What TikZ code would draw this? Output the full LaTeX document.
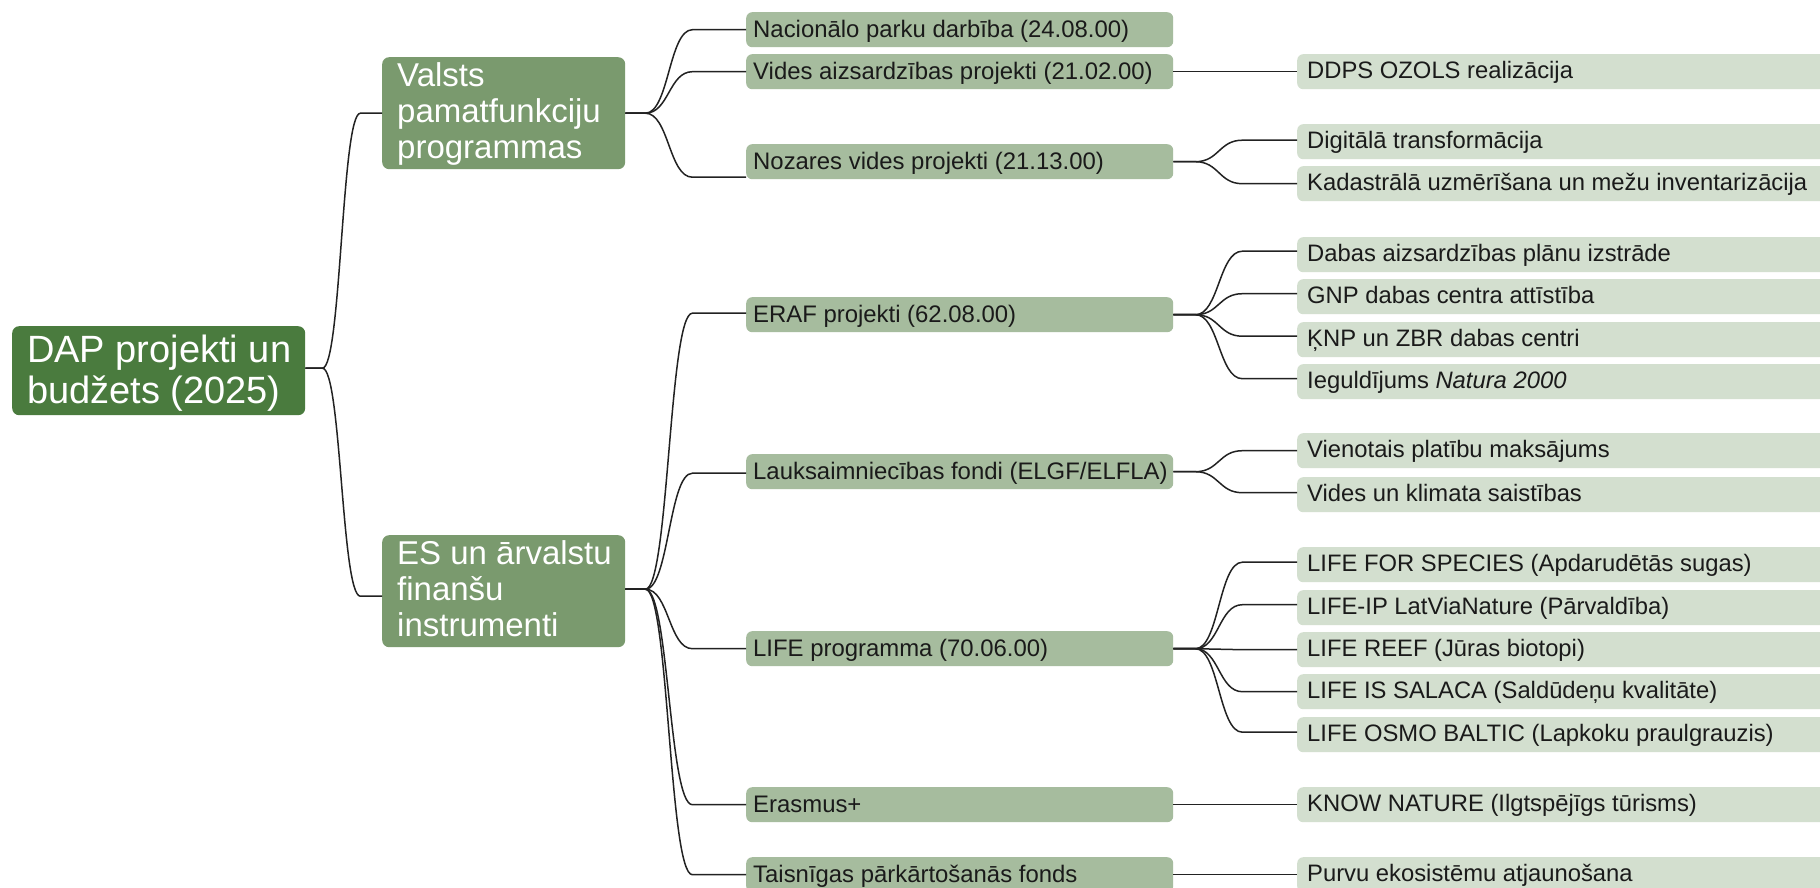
\documentclass[tikz,border=0pt]{standalone}
\usepackage{fontspec}
\setmainfont{Liberation Sans}
\usetikzlibrary{calc}
\definecolor{rootc}{HTML}{4A7B3E}
\definecolor{lvlone}{HTML}{7A9A6E}
\definecolor{lvltwo}{HTML}{A6BC9E}
\definecolor{leafc}{HTML}{D3DFCF}
\definecolor{linec}{HTML}{222222}
\definecolor{txt}{HTML}{1A1A1A}
% #1 parent anchor, #2 child anchor, #3 stub length, #4 curve width
\newcommand\mmlink[4]{%
  \path #1 ++(#3,0) coordinate (tmpA);
  \path #2 coordinate (tmpC);
  \path ($(tmpC -| tmpA)+(#4,0)$) coordinate (tmpB);
  \draw[conn] #1 -- (tmpA) .. controls ($(tmpA)+(0.5*#4,0)$) and ($(tmpB)+(-0.5*#4,0)$) .. (tmpB) -- (tmpC);
}
\newcommand\boxlines[2]{\makebox[#1][l]{\parbox[t]{500pt}{\raggedright #2}}}
\newcommand\oneline[2]{\makebox[#1][l]{#2}}
\begin{document}
\begin{tikzpicture}[x=1pt,y=-1pt,
  rootbox/.style={fill=rootc, text=white, rounded corners=7pt, anchor=north west, inner xsep=15pt, inner ysep=0pt, text height=36pt, text depth=53pt, font=\fontsize{38}{41}\selectfont},
  lvlonebox/.style={fill=lvlone, text=white, rounded corners=7pt, anchor=north west, inner xsep=15pt, inner ysep=0pt, text height=29pt, text depth=83pt, font=\fontsize{33}{36}\selectfont},
  lvltwobox/.style={fill=lvltwo, text=txt, rounded corners=6pt, anchor=north west, inner xsep=7pt, inner ysep=0pt, text height=25pt, text depth=10pt, font=\fontsize{23.9}{28}\selectfont},
  leafbox/.style={fill=leafc, text=txt, rounded corners=6pt, anchor=north west, inner xsep=10pt, inner ysep=0pt, text height=24pt, text depth=11pt, font=\fontsize{23.8}{28}\selectfont},
  conn/.style={draw=linec, line width=1.5pt}
]
\useasboundingbox (0,0) rectangle (1820,888);
\clip (0,0) rectangle (1820,888);
\fill[white] (0,0) rectangle (1820,888);

% root and level 1
\node[rootbox] (root) at (12,326) {\boxlines{263pt}{DAP projekti un\\budžets (2025)}};
\node[lvlonebox] (valsts) at (382,57) {\boxlines{213pt}{Valsts\\pamatfunkciju\\programmas}};
\node[lvlonebox] (es) at (382,535) {\boxlines{213pt}{ES un ārvalstu\\finanšu\\instrumenti}};

% level 2
\node[lvltwobox] (nac) at (746,12) {\oneline{413pt}{Nacionālo parku darbība (24.08.00)}};
\node[lvltwobox] (vides) at (746,54) {\oneline{413pt}{Vides aizsardzības projekti (21.02.00)}};
\node[lvltwobox] (nozares) at (746,144) {\oneline{413pt}{Nozares vides projekti (21.13.00)}};
\node[lvltwobox] (eraf) at (746,297) {\oneline{413pt}{ERAF projekti (62.08.00)}};
\node[lvltwobox] (lauks) at (746,454) {\oneline{413pt}{Lauksaimniecības fondi (ELGF/ELFLA)}};
\node[lvltwobox] (life) at (746,631) {\oneline{413pt}{LIFE programma (70.06.00)}};
\node[lvltwobox] (erasmus) at (746,787) {\oneline{413pt}{Erasmus+}};
\node[lvltwobox] (taisn) at (746,857) {\oneline{413pt}{Taisnīgas pārkārtošanās fonds}};

% leaves
\node[leafbox] (ddps) at (1297,54) {\oneline{513pt}{DDPS OZOLS realizācija}};
\node[leafbox] (digit) at (1297,124) {\oneline{513pt}{Digitālā transformācija}};
\node[leafbox] (kad) at (1297,166) {\oneline{513pt}{Kadastrālā uzmērīšana un mežu inventarizācija}};
\node[leafbox] (dabas) at (1297,237) {\oneline{513pt}{Dabas aizsardzības plānu izstrāde}};
\node[leafbox] (gnp) at (1297,279) {\oneline{513pt}{GNP dabas centra attīstība}};
\node[leafbox] (knp) at (1297,322) {\oneline{513pt}{ĶNP un ZBR dabas centri}};
\node[leafbox] (ieg) at (1297,364) {\oneline{513pt}{Ieguldījums \textit{Natura 2000}}};
\node[leafbox] (vien) at (1297,433) {\oneline{513pt}{Vienotais platību maksājums}};
\node[leafbox] (vidk) at (1297,477) {\oneline{513pt}{Vides un klimata saistības}};
\node[leafbox] (forsp) at (1297,547) {\oneline{513pt}{LIFE FOR SPECIES (Apdarudētās sugas)}};
\node[leafbox] (ip) at (1297,590) {\oneline{513pt}{LIFE-IP LatViaNature (Pārvaldība)}};
\node[leafbox] (reef) at (1297,632) {\oneline{513pt}{LIFE REEF (Jūras biotopi)}};
\node[leafbox] (salaca) at (1297,674) {\oneline{513pt}{LIFE IS SALACA (Saldūdeņu kvalitāte)}};
\node[leafbox] (osmo) at (1297,717) {\oneline{513pt}{LIFE OSMO BALTIC (Lapkoku praulgrauzis)}};
\node[leafbox] (know) at (1297,787) {\oneline{513pt}{KNOW NATURE (Ilgtspējīgs tūrisms)}};
\node[leafbox] (purvu) at (1297,857) {\oneline{513pt}{Purvu ekosistēmu atjaunošana}};

% connectors: root -> level 1
\mmlink{([yshift=2.5pt]root.east)}{(valsts.west)}{17}{38}
\mmlink{([yshift=2.5pt]root.east)}{([yshift=-5pt]es.west)}{17}{38}

% level 1 -> level 2
\mmlink{(valsts.east)}{(nac.west)}{20}{47}
\mmlink{(valsts.east)}{(vides.west)}{20}{47}
\mmlink{(valsts.east)}{([yshift=-15.5pt]nozares.west)}{20}{47}
\mmlink{([yshift=2pt]es.east)}{([yshift=1.5pt]eraf.west)}{20}{47}
\mmlink{([yshift=2pt]es.east)}{([yshift=-1.5pt]lauks.west)}{20}{47}
\mmlink{([yshift=2pt]es.east)}{(life.west)}{20}{47}
\mmlink{([yshift=2pt]es.east)}{(erasmus.west)}{20}{47}
\mmlink{([yshift=2pt]es.east)}{(taisn.west)}{20}{47}

% level 2 -> leaves
\mmlink{(vides.east)}{(ddps.west)}{22}{47}
\mmlink{(nozares.east)}{([yshift=1.5pt]digit.west)}{22}{47}
\mmlink{(nozares.east)}{(kad.west)}{22}{47}
\mmlink{(eraf.east)}{([yshift=3.5pt]dabas.west)}{22}{47}
\mmlink{(eraf.east)}{([yshift=3pt]gnp.west)}{22}{47}
\mmlink{(eraf.east)}{([yshift=3.5pt]knp.west)}{22}{47}
\mmlink{(eraf.east)}{([yshift=3pt]ieg.west)}{22}{47}
\mmlink{(lauks.east)}{(vien.west)}{22}{47}
\mmlink{(lauks.east)}{([yshift=2pt]vidk.west)}{22}{47}
\mmlink{(life.east)}{([yshift=2.5pt]forsp.west)}{22}{47}
\mmlink{(life.east)}{([yshift=3pt]ip.west)}{22}{47}
\mmlink{(life.east)}{(reef.west)}{22}{47}
\mmlink{(life.east)}{(salaca.west)}{22}{47}
\mmlink{(life.east)}{([yshift=2.5pt]osmo.west)}{22}{47}
\mmlink{(erasmus.east)}{(know.west)}{22}{47}
\mmlink{(taisn.east)}{(purvu.west)}{22}{47}
\end{tikzpicture}
\end{document}
